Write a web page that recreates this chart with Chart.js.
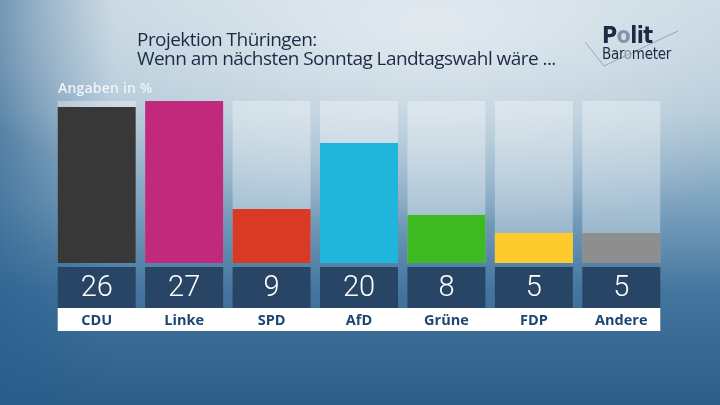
<!DOCTYPE html>
<html>
<head>
<meta charset="utf-8">
<script src="https://cdn.jsdelivr.net/npm/chart.js@4.4.1/dist/chart.umd.min.js"></script>
<style>
  html, body { margin: 0; padding: 0; }
  body {
    width: 720px; height: 405px; overflow: hidden; position: relative;
    background:
      radial-gradient(ellipse 70% 50% at 60% 6%, rgba(230,237,242,0.9), rgba(230,237,242,0) 100%),
      linear-gradient(90deg, rgba(38,92,140,0.6) 0%, rgba(38,92,140,0) 16%),
      linear-gradient(180deg, #c0d2de 0%, #a8c1d2 28%, #7ea4bf 50%, #43759f 72%, #2c5d87 100%);
  }
  #wrap { position: absolute; left: 0; top: 0; width: 720px; height: 405px; }
  .title {
    position: absolute; left: 137px; top: 30px;
    font: 19px "Open Sans", sans-serif; line-height: 19px; color: #1c2b45;
    letter-spacing: -0.55px; white-space: nowrap;
  }
  .unit {
    position: absolute; left: 58px; top: 78px;
    font: 600 14px "Open Sans", sans-serif; color: #eef4f8; letter-spacing: 0.2px;
  }
  .logo1 { position: absolute; left: 602px; top: 22px; font: bold 23px "DejaVu Sans Condensed", sans-serif; color: #1d2a44; letter-spacing: -0.6px; }
  .logo2 { position: absolute; left: 602px; top: 45px; font: 15px "DejaVu Sans Condensed", sans-serif; color: #1d2a44; letter-spacing: -0.3px; }
  .logo1 span, .logo2 span { color: #8794a4; }
  #mark { position: absolute; left: 0; top: 0; }
</style>
</head>
<body>
<div id="wrap"><canvas id="c" width="720" height="405"></canvas></div>
<svg id="mark" width="720" height="100">
  <polyline points="585,42 604,66 678,31" fill="none" stroke="#8c98a6" stroke-width="0.8"/>
</svg>
<div class="title">Projektion Thüringen:<br>Wenn am nächsten Sonntag Landtagswahl wäre ...</div>
<div class="unit">Angaben in %</div>
<div class="logo1">P<span>o</span>lit</div>
<div class="logo2">Bar<span>o</span>meter</div>
<script>
  var PARTIES = ['CDU', 'Linke', 'SPD', 'AfD', 'Grüne', 'FDP', 'Andere'];
  var SHARES = [26, 27, 9, 20, 8, 5, 5];
  var COLORS = ['#383838', '#c12a7c', '#d93a26', '#20b5da', '#3dba22', '#fdcb2e', '#8e8e8e'];
  var Y_MAX = 27;

  var NUM_FONT = '300 29px Roboto, "Liberation Sans", sans-serif';
  var LABEL_FONT = 'bold 14.5px "Open Sans", sans-serif';

  // value boxes + white label strip under the plot area
  var boxes = {
    id: 'boxes',
    afterDatasetsDraw: function (chart) {
      var ctx = chart.ctx, area = chart.chartArea;
      var meta = chart.getDatasetMeta(0);
      var top = area.bottom + 4, boxH = 41, stripH = 23;
      ctx.save();
      var first = meta.data[0], last = meta.data[meta.data.length - 1];
      var x0 = first.x - first.width / 2, x1 = last.x + last.width / 2;
      ctx.fillStyle = '#ffffff';
      ctx.fillRect(x0, top + boxH, x1 - x0, stripH);
      meta.data.forEach(function (bar, i) {
        var l = bar.x - bar.width / 2;
        ctx.fillStyle = '#294565';
        ctx.fillRect(l, top, bar.width, boxH);
        ctx.fillStyle = '#ffffff';
        ctx.font = NUM_FONT;
        ctx.textAlign = 'center';
        ctx.textBaseline = 'middle';
        ctx.fillText(String(SHARES[i]), bar.x, top + boxH / 2 + 1);
        ctx.fillStyle = '#1b4672';
        ctx.font = LABEL_FONT;
        ctx.fillText(PARTIES[i], bar.x, top + boxH + stripH / 2 + 1);
      });
      ctx.restore();
    }
  };

  new Chart(document.getElementById('c').getContext('2d'), {
    type: 'bar',
    data: {
      labels: PARTIES,
      datasets: [
        {
          data: SHARES,
          backgroundColor: COLORS,
          categoryPercentage: 1, barPercentage: 0.892,
          grouped: false, order: 0
        },
        {
          // pale column behind every bar, up to the scale maximum
          data: PARTIES.map(function () { return Y_MAX; }),
          backgroundColor: 'rgba(255,255,255,0.33)',
          categoryPercentage: 1, barPercentage: 0.892,
          grouped: false, order: 1
        }
      ]
    },
    options: {
      responsive: false,
      animation: false,
      layout: { padding: { left: 53, right: 55, top: 101, bottom: 142 } },
      plugins: { legend: { display: false }, tooltip: { enabled: false } },
      scales: {
        x: { display: false },
        y: { display: false, min: 0, max: Y_MAX }
      }
    },
    plugins: [boxes]
  });
</script>
</body>
</html>
